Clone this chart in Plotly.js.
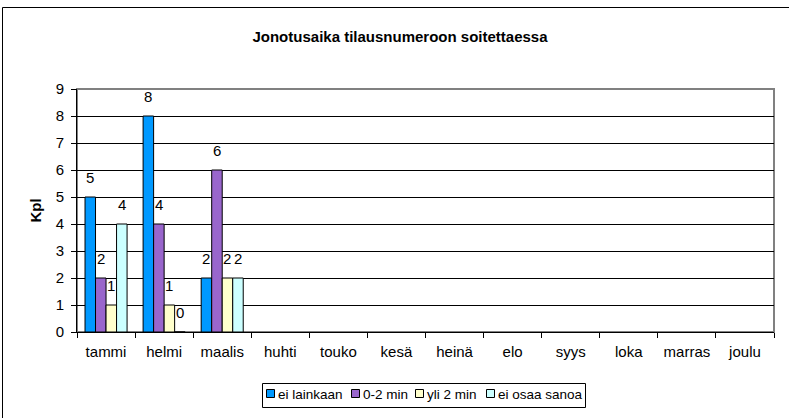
<!DOCTYPE html>
<html><head><meta charset="utf-8">
<script src="https://cdn.plot.ly/plotly-3.0.1.min.js"></script>
<style>html,body{margin:0;padding:0;background:#fff;}#chart{width:789px;height:418px;}</style>
</head><body><div id="chart"></div>
<script>
const months = ['tammi','helmi','maalis','huhti','touko','kesä','heinä','elo','syys','loka','marras','joulu'];
const seriesNames = ['ei lainkaan','0-2 min','yli 2 min','ei osaa sanoa'];
const eiLainkaan = [5, 8, 2, null, null, null, null, null, null, null, null, null];
const nollaKaksi = [2, 4, 6, null, null, null, null, null, null, null, null, null];
const yliKaksi   = [1, 1, 2, null, null, null, null, null, null, null, null, null];
const eiOsaa     = [4, 0, 2, null, null, null, null, null, null, null, null, null];
const yTicks = [0,1,2,3,4,5,6,7,8,9];
const colors = ['#0099FF','#9966CC','#FFFFCC','#CCFFFF'];

const font = 'Liberation Sans, Arial, sans-serif';
const vals = [eiLainkaan, nollaKaksi, yliKaksi, eiOsaa];

const L=77, R=774, T=89, B=332;
const W=R-L, H=B-T;
const px = p => (p-L)/W, py = p => (B-p)/H;
const bargap = 0.276;
const catW = W/months.length;
const barW = catW*(1-bargap)/vals.length;

const traces = vals.map((v,i)=>({
  type:'bar', name: seriesNames[i], x: months, y: v, showlegend:false,
  marker:{color: colors[i], line:{color:'#000', width:1}},
  hoverinfo:'none'
}));

// data labels placed on the library's scales
const annotations = [];
vals.forEach((v,i)=>{
  v.forEach((val,j)=>{
    if(val===null) return;
    annotations.push({x: months[j], y: val, xref:'x', yref:'y', text: String(val),
      showarrow:false, xanchor:'center', yanchor:'bottom',
      xshift:(i-(vals.length-1)/2)*barW, yshift:9,
      font:{family:font, size:15, color:'#000'}});
  });
});

// legend (drawn manually for compact Excel-style layout)
const legX = [266, 351, 415, 486];
const shapes = [
  {type:'rect', xref:'paper', yref:'paper', x0:0, x1:1, y0:0, y1:1, line:{color:'#808080', width:2}, layer:'below'},
  {type:'rect', xref:'paper', yref:'paper', x0:px(2.5), x1:px(800), y0:py(7.5), y1:py(430), line:{color:'#000', width:1}, layer:'below'},
  {type:'rect', xref:'paper', yref:'paper', x0:px(262.5), x1:px(585.5), y0:py(383.5), y1:py(407.5), line:{color:'#000', width:1}, fillcolor:'#fff', layer:'above'}
];
seriesNames.forEach((n,i)=>{
  shapes.push({type:'rect', xref:'paper', yref:'paper', x0:px(legX[i]+0.5), x1:px(legX[i]+8.5), y0:py(389.5), y1:py(397.5),
    line:{color:'#000', width:1}, fillcolor:colors[i], layer:'above'});
  annotations.push({xref:'paper', yref:'paper', x:px(legX[i]+10), y:py(394), text:n, showarrow:false,
    xanchor:'left', yanchor:'middle', font:{family:font, size:13.5, color:'#000'}});
});

const layout = {
  width:789, height:418,
  margin:{l:L, r:789-R, t:T, b:418-B},
  paper_bgcolor:'#fff', plot_bgcolor:'#fff',
  font:{family:font, size:15, color:'#000'},
  barmode:'group', bargap:bargap, bargroupgap:0,
  showlegend:false,
  title:{text:'<b>Jonotusaika tilausnumeroon soitettaessa</b>', font:{family:font, size:15, color:'#000'},
         x:400/789, xref:'container', xanchor:'center', y:1-37/418, yref:'container', yanchor:'middle'},
  xaxis:{type:'category', tickson:'boundaries', ticks:'outside', ticklen:5, tickcolor:'#000', tickwidth:1,
         showline:true, linecolor:'#000', linewidth:1, showgrid:false, ticklabelstandoff:6,
         tickfont:{family:font, size:15, color:'#000'}, fixedrange:true},
  yaxis:{range:[0,9], tickvals:yTicks, ticks:'outside', ticklen:5, tickcolor:'#000', tickwidth:1,
         showline:true, linecolor:'#000', linewidth:1, showgrid:true, gridcolor:'#000', gridwidth:1,
         zeroline:false, tickfont:{family:font, size:15, color:'#000'}, ticklabelstandoff:4,
         title:{text:'<b>Kpl</b>', font:{family:font, size:15, color:'#000'}, standoff:10}, fixedrange:true},
  annotations: annotations,
  shapes: shapes
};
Plotly.newPlot('chart', traces, layout, {staticPlot:true, displayModeBar:false});
</script></body></html>
